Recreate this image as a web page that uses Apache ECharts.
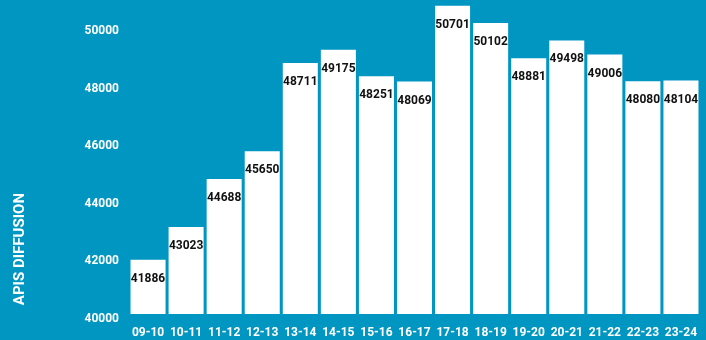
<!DOCTYPE html>
<html>
<head>
<meta charset="utf-8">
<script src="https://cdn.jsdelivr.net/npm/echarts@6/dist/echarts.min.js"></script>
<style>
html,body{margin:0;padding:0;background:#0096c2;}
#chart{width:706px;height:340px;}
</style>
</head>
<body>
<div id="chart"></div>
<script>
// seasons on the x axis
const seasons = ['09-10','10-11','11-12','12-13','13-14','14-15','15-16','16-17','17-18','18-19','19-20','20-21','21-22','22-23','23-24'];
// diffusion values per season
const diffusion = [41886,43023,44688,45650,48711,49175,48251,48069,50701,50102,48881,49498,49006,48080,48104];
const axisName = 'APIS DIFFUSION';

const chart = echarts.init(document.getElementById('chart'));
const option = {
    backgroundColor:'#0096c2',
    animation:false,
    grid:{
        left:129,
        right:6,
        top:0,
        bottom:26
    },
    xAxis:{
        type:'category',
        data:seasons,
        axisLine:{show:false},
        axisTick:{show:false},
        axisLabel:{
            interval:0,
            color:'#fff',
            fontFamily:'Roboto',
            fontWeight:'bold',
            fontSize:12,
            margin:13
        }
    },
    yAxis:{
        type:'value',
        min:40000,
        max:50900,
        interval:2000,
        splitLine:{show:false},
        axisLine:{show:false},
        axisTick:{show:false},
        axisLabel:{
            showMaxLabel:false,
            color:'#fff',
            fontFamily:'Roboto',
            fontWeight:'bold',
            fontSize:12,
            margin:10,
            verticalAlign:'top',
            lineHeight:10,
            formatter:v=>String(v)
        }
    },
    graphic:[{
        type:'text',
        left:13,
        top:193,
        rotation:Math.PI/2,
        style:{
            text:axisName,
            fill:'#fff',
            font:'bold 15px Roboto'
        }
    }],
    series:[{
        type:'bar',
        data:diffusion,
        barCategoryGap:'8%',
        itemStyle:{color:'#fff'},
        label:{
            show:true,
            position:'insideTop',
            distance:13,
            color:'#111',
            fontFamily:'Roboto',
            fontWeight:'bold',
            fontSize:12
        }
    }]
};
chart.setOption(option);
</script>
</body>
</html>
